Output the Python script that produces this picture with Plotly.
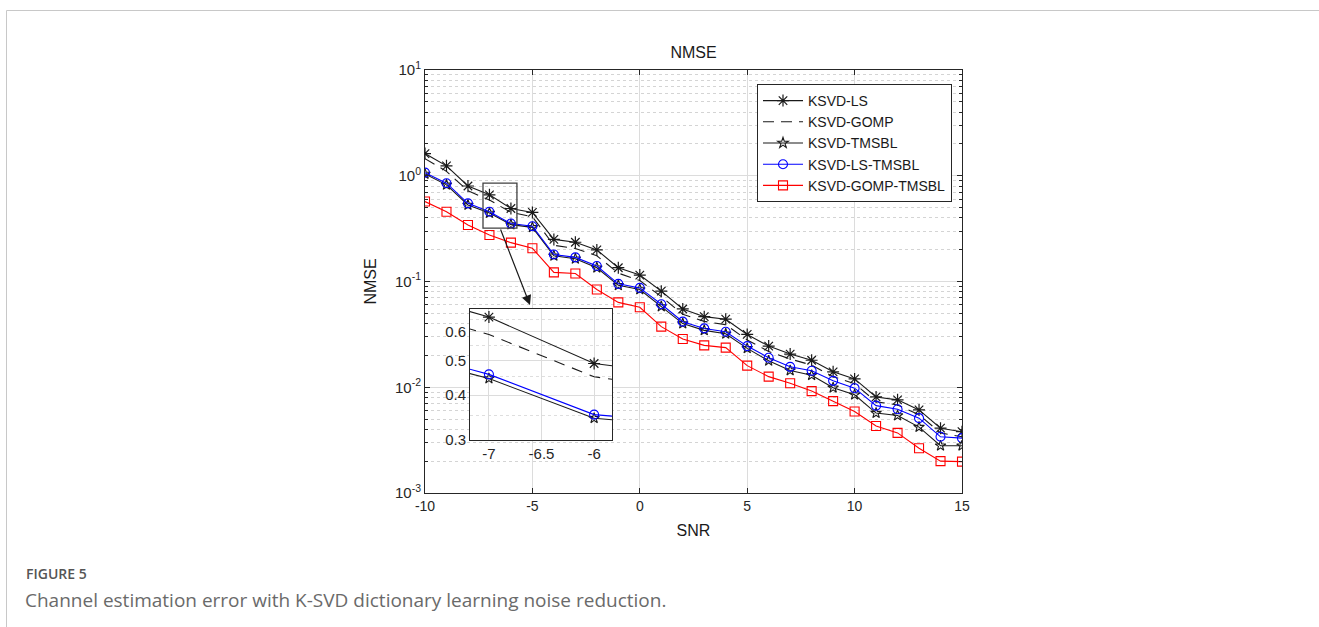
import math
import plotly.graph_objects as go

snr = list(range(-10, 16))
ksvd_ls = [1.62, 1.24, 0.80, 0.66, 0.49, 0.45, 0.25, 0.235, 0.199, 0.135, 0.115, 0.081, 0.055,
           0.0465, 0.044, 0.0316, 0.0245, 0.0206, 0.018, 0.014, 0.012, 0.0081, 0.0076, 0.0061, 0.0041, 0.0038]
ksvd_gomp = [1.45, 1.1, 0.72, 0.59, 0.45, 0.41, 0.22, 0.205, 0.175, 0.12, 0.102, 0.072, 0.049,
             0.042, 0.039, 0.028, 0.0218, 0.0185, 0.0162, 0.0126, 0.0108, 0.0073, 0.0068, 0.0055, 0.0037, 0.0034]
ksvd_tmsbl = [1.04, 0.82, 0.53, 0.445, 0.345, 0.325, 0.175, 0.164, 0.135, 0.092, 0.084, 0.058, 0.040,
              0.0345, 0.032, 0.0233, 0.0178, 0.0144, 0.013, 0.0099, 0.0085, 0.0057, 0.0054, 0.0042, 0.0028, 0.0028]
ksvd_ls_tmsbl = [1.07, 0.85, 0.548, 0.457, 0.353, 0.333, 0.18, 0.169, 0.14, 0.095, 0.087, 0.061, 0.0417,
                 0.036, 0.0335, 0.0245, 0.019, 0.0156, 0.0143, 0.0115, 0.0098, 0.0067, 0.0062, 0.0051, 0.0034, 0.0033]
ksvd_gomp_tmsbl = [0.57, 0.457, 0.342, 0.275, 0.233, 0.206, 0.122, 0.119, 0.084, 0.0635, 0.057, 0.0374, 0.0286,
                   0.0249, 0.0237, 0.016, 0.0126, 0.0109, 0.0092, 0.0074, 0.0059, 0.0043, 0.0037, 0.00265, 0.002, 0.00198]

series_names = ["KSVD-LS", "KSVD-GOMP", "KSVD-TMSBL", "KSVD-LS-TMSBL", "KSVD-GOMP-TMSBL"]
x_ticks = [-10, -5, 0, 5, 10, 15]
y_tickvals = [1e-3, 1e-2, 1e-1, 1e0, 1e1]
y_ticktext = ["10<sup>-3</sup>", "10<sup>-2</sup>", "10<sup>-1</sup>", "10<sup>0</sup>", "10<sup>1</sup>"]
inset_xticks = [-7, -6.5, -6]
inset_yticks = [0.3, 0.4, 0.5, 0.6]
zoom_box_x = [-7.3, -5.72]
zoom_box_y = [0.32, 0.85]

W, H = 1319, 627
PL, PR, PT, PB = 425, 962, 70, 493  # plot area in pixels
XR = (-10, 15)
YR = (-3, 1)


def px_x(p):
    return (p - PL) / (PR - PL)


def px_y(p):
    return (PB - p) / (PB - PT)


def data_to_paper_x(v):
    return (v - XR[0]) / (XR[1] - XR[0])


def data_to_paper_y(v):
    return (math.log10(v) - YR[0]) / (YR[1] - YR[0])


minor_vals = [m * 10 ** e for e in range(-3, 1) for m in range(2, 10)]
inset_minor = [0.35, 0.45, 0.55, 0.65]

DARK = "#262626"
styles = [
    dict(color="#1a1a1a", dash="solid", marker=dict(symbol="asterisk-open", size=10, line=dict(width=1.2, color="black"))),
    dict(color="#1a1a1a", dash="dash", marker=dict(symbol="circle", size=1, opacity=0)),
    dict(color="#1a1a1a", dash="solid", marker=dict(symbol="star-open", size=8, line=dict(width=1.1, color="#1a1a1a"))),
    dict(color="#0000ff", dash="solid", marker=dict(symbol="circle-open", size=9, line=dict(width=1.1, color="#0000ff"))),
    dict(color="#ff0000", dash="solid", marker=dict(symbol="square-open", size=9, line=dict(width=1.1, color="#ff0000"))),
]
data = [ksvd_ls, ksvd_gomp, ksvd_tmsbl, ksvd_ls_tmsbl, ksvd_gomp_tmsbl]

fig = go.Figure()
for name, ys, st in zip(series_names, data, styles):
    mode = "lines" if st["dash"] == "dash" else "lines+markers"
    fig.add_trace(go.Scatter(x=snr, y=ys, name=name, mode=mode,
                             line=dict(color=st["color"], width=1.1, dash="solid" if st["dash"] == "solid" else "11px,7px"),
                             marker=st["marker"], xaxis="x", yaxis="y"))
for name, ys, st in zip(series_names, data, styles):
    mode = "lines" if st["dash"] == "dash" else "lines+markers"
    fig.add_trace(go.Scatter(x=snr, y=ys, name=name, mode=mode, showlegend=False,
                             line=dict(color=st["color"], width=1.1, dash="solid" if st["dash"] == "solid" else "11px,8px"),
                             marker=st["marker"], xaxis="x2", yaxis="y2"))

FAM = "Liberation Sans, Arial, sans-serif"
axis_font = dict(family=FAM, size=14, color=DARK)

ix0, ix1 = px_x(470), px_x(612)
iy0, iy1 = px_y(440), px_y(309)

fig.update_layout(
    width=W, height=H,
    margin=dict(l=PL, r=W - PR, t=PT, b=H - PB),
    paper_bgcolor="white", plot_bgcolor="white",
    font=axis_font,
    title=dict(text="NMSE", x=(PL + PR) / 2 / W, xanchor="center", y=1 - 52 / H, yanchor="middle",
               font=dict(family=FAM, size=16, color="#1a1a1a")),
    showlegend=True,
    legend=dict(x=px_x(757), y=px_y(84), xanchor="left", yanchor="top",
                bgcolor="white", bordercolor=DARK, borderwidth=1,
                font=dict(family=FAM, size=14, color="#1a1a1a"),
                itemwidth=40, tracegroupgap=0),
    xaxis=dict(domain=[0, 1], range=list(XR), tickvals=x_ticks, ticktext=[str(v) for v in x_ticks],
               showgrid=True, gridcolor="#dcdcdc", gridwidth=1,
               showline=True, linecolor=DARK, linewidth=1, mirror="allticks", ticks="inside", ticklen=5,
               tickcolor=DARK, zeroline=False, title=dict(text="SNR", font=dict(family=FAM, size=16, color="#1a1a1a"), standoff=12),
               tickfont=axis_font),
    yaxis=dict(domain=[0, 1], type="log", range=list(YR), tickvals=y_tickvals, ticktext=y_ticktext,
               showgrid=True, gridcolor="#dcdcdc", gridwidth=1,
               showline=True, linecolor=DARK, linewidth=1, mirror="allticks", ticks="inside", ticklen=5,
               tickcolor=DARK, zeroline=False,
               minor=dict(tickvals=minor_vals, ticks="inside", ticklen=3, tickcolor=DARK, showgrid=True,
                          gridcolor="#d4d4d4", griddash="dot", gridwidth=1),
               title=dict(text="NMSE", font=dict(family=FAM, size=16, color="#1a1a1a"), standoff=14),
               tickfont=dict(family=FAM, size=15, color=DARK)),
    xaxis2=dict(domain=[ix0, ix1], anchor="y2", range=[-7.18, -5.83], tickvals=inset_xticks,
                ticktext=[str(v) for v in inset_xticks],
                showgrid=True, gridcolor="#dcdcdc", showline=True, linecolor=DARK, linewidth=1,
                mirror=True, ticks="", zeroline=False, tickfont=dict(family=FAM, size=15, color=DARK)),
    yaxis2=dict(domain=[iy0, iy1], anchor="x2", type="log",
                range=[math.log10(0.3), math.log10(0.695)], tickvals=inset_yticks,
                ticktext=[str(v) for v in inset_yticks],
                showgrid=True, gridcolor="#dcdcdc", showline=True, linecolor=DARK, linewidth=1,
                mirror=True, ticks="", zeroline=False, tickfont=dict(family=FAM, size=15, color=DARK),
                minor=dict(tickvals=inset_minor, showgrid=True, gridcolor="#dedede", griddash="dot", ticks="")),
)

shapes = [
    # zoom rectangle
    dict(type="rect", xref="paper", yref="paper",
         x0=data_to_paper_x(zoom_box_x[0]), x1=data_to_paper_x(zoom_box_x[1]),
         y0=data_to_paper_y(zoom_box_y[0]), y1=data_to_paper_y(zoom_box_y[1]),
         line=dict(color="#404040", width=1.3), fillcolor="rgba(0,0,0,0)", layer="above"),
    # card frame
    dict(type="line", xref="paper", yref="paper", x0=px_x(6.5), x1=px_x(1319), y0=px_y(10.5), y1=px_y(10.5),
         line=dict(color="#c8c8c8", width=1)),
    dict(type="line", xref="paper", yref="paper", x0=px_x(6.5), x1=px_x(6.5), y0=px_y(10.5), y1=px_y(627),
         line=dict(color="#c8c8c8", width=1)),
]
fig.update_layout(shapes=shapes)

annotations = [
    dict(xref="paper", yref="paper", x=px_x(530), y=px_y(305), ax=-30, ay=-77, axref="pixel", ayref="pixel",
         showarrow=True, arrowhead=2, arrowsize=1.6, arrowwidth=1.2, arrowcolor="#1a1a1a", text=""),
    dict(xref="paper", yref="paper", x=px_x(24), y=px_y(573), xanchor="left", yanchor="middle", showarrow=False,
         text="FIGURE 5", font=dict(family="Open Sans, sans-serif", size=14, color="#555555", weight=600)),
    dict(xref="paper", yref="paper", x=px_x(23), y=px_y(600), xanchor="left", yanchor="middle", showarrow=False,
         text="Channel estimation error with K-SVD dictionary learning noise reduction.",
         font=dict(family="Open Sans, sans-serif", size=19, color="#6a6a6a")),
]
fig.update_layout(annotations=annotations)

fig.write_html("out.html")
